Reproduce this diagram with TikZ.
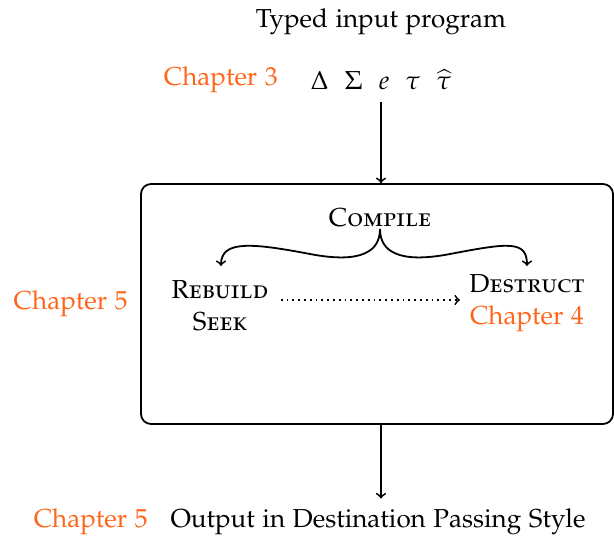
\documentclass[tikz,border=0pt]{standalone}
\usepackage[T1]{fontenc}
\usepackage[sc]{mathpazo}
\usepackage{tikz}
\usetikzlibrary{positioning}

\definecolor{chapcol}{RGB}{255,102,26}
\tikzset{
  chap/.style={text=chapcol, inner sep=1pt},
  stage/.style={inner sep=1pt, align=center},
  flow/.style={->, line width=0.9pt},
}

\begin{document}
\begin{tikzpicture}[x=0.5pt, y=-0.5pt, font=\fontsize{13}{16}\selectfont]
        \useasboundingbox (0,0) rectangle (614,540);

        % Input
        \node[stage] (input) at (381,22) {Typed input program};
        \node[stage] (syms) at (381,80) {$\Delta\hspace{8pt}\Sigma\hspace{8pt}e\hspace{8pt}\tau\hspace{8pt}\widehat{\tau}$};
        \node[chap, left=14pt of syms] (ch3) {Chapter 3};

        % Compile box
        \node[draw, line width=0.9pt, rounded corners=5pt, minimum width=236pt, minimum height=120pt] (box) at (377,304) {};
        \node[chap, left=5pt of box] (ch5a) {Chapter 5};
        \node[stage] (compile) at (380,217) {\textsc{Compile}};
        \node[stage] (rebuild) at (220,306) {\textsc{Rebuild}\\\textsc{Seek}};
        \node[stage] (destruct) at (527,303) {\textsc{Destruct}\\\textcolor{chapcol}{Chapter 4}};

        % Output
        \node[stage] (output) at (378,522) {Output in Destination Passing Style};
        \node[chap, left=9pt of output] (ch5b) {Chapter 5};

        % Connections
        \draw[flow, shorten <=5pt] (input |- syms.south) -- (input |- box.north);
        \draw[flow, shorten >=4pt] (input |- box.south) -- (input |- output.north);
        \draw[flow] (compile.south) .. controls ++(0,22) and (362,264) .. (310,254)
                    .. controls (252,243) and (221,240) .. (221,266);
        \draw[flow] (compile.south) .. controls ++(0,22) and (398,264) .. (450,254)
                    .. controls (508,243) and (527,240) .. (527,266);
        \draw[flow, dotted] ([xshift=5pt]rebuild.east |- 0,300) -- (460,300);

\end{tikzpicture}
\end{document}
